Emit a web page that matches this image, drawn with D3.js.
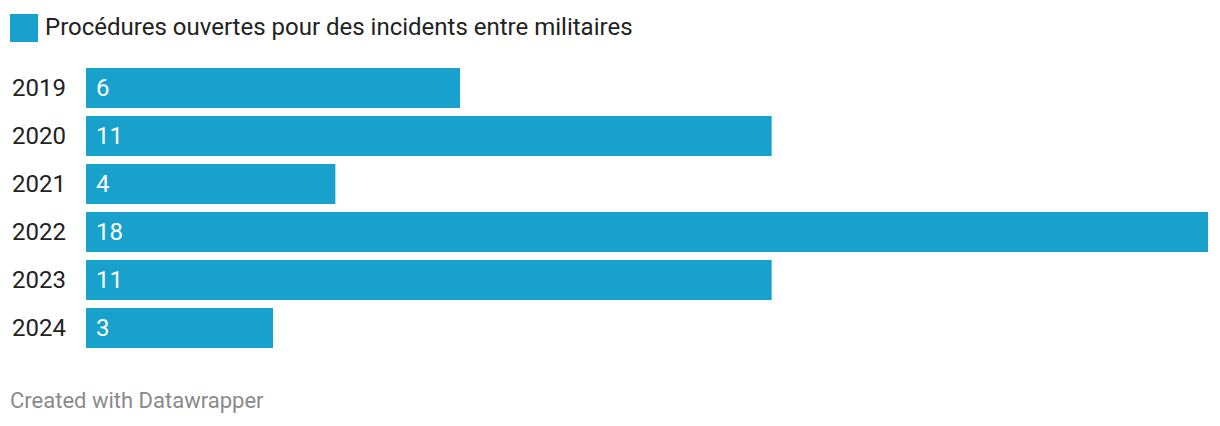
<!DOCTYPE html>
<html><head><meta charset="utf-8">
<script src="https://cdn.jsdelivr.net/npm/d3@7"></script>
<style>body{margin:0;background:#fff;font-family:Roboto,sans-serif;}</style>
</head><body>
<svg id="c" width="1220" height="426"></svg>
<script>
const years = ["2019","2020","2021","2022","2023","2024"];
const values = [6, 11, 4, 18, 11, 3];
const seriesName = "Procédures ouvertes pour des incidents entre militaires";
const footer = "Created with Datawrapper";
const color = "#18a1cd";

const svg = d3.select("#c");
const x = d3.scaleLinear().domain([0, 18]).range([86, 1208]);
const yb = d3.scaleBand().domain(years).range([68, 68 + 48*6]).padding(0);

svg.append("rect").attr("x",10).attr("y",14).attr("width",28).attr("height",28).attr("fill",color);
svg.append("text").attr("x",45).attr("y",27).attr("dominant-baseline","central")
  .attr("font-size",24).attr("fill","#222").text(seriesName);

const g = svg.append("g");
years.forEach((yr,i)=>{
  const y0 = yb(yr);
  g.append("rect").attr("x",x(0)).attr("y",y0).attr("width",x(values[i])-x(0)).attr("height",40).attr("fill",color);
  g.append("text").attr("x",12).attr("y",y0+20).attr("dominant-baseline","central")
    .attr("font-size",24).attr("fill","#222").text(yr);
  g.append("text").attr("x",x(0)+10).attr("y",y0+20).attr("dominant-baseline","central")
    .attr("font-size",24).attr("fill","#fff").text(values[i]);
});

svg.append("text").attr("x",10).attr("y",408).attr("font-size",22).attr("fill","#8a8a8a").text(footer);
</script>
</body></html>
